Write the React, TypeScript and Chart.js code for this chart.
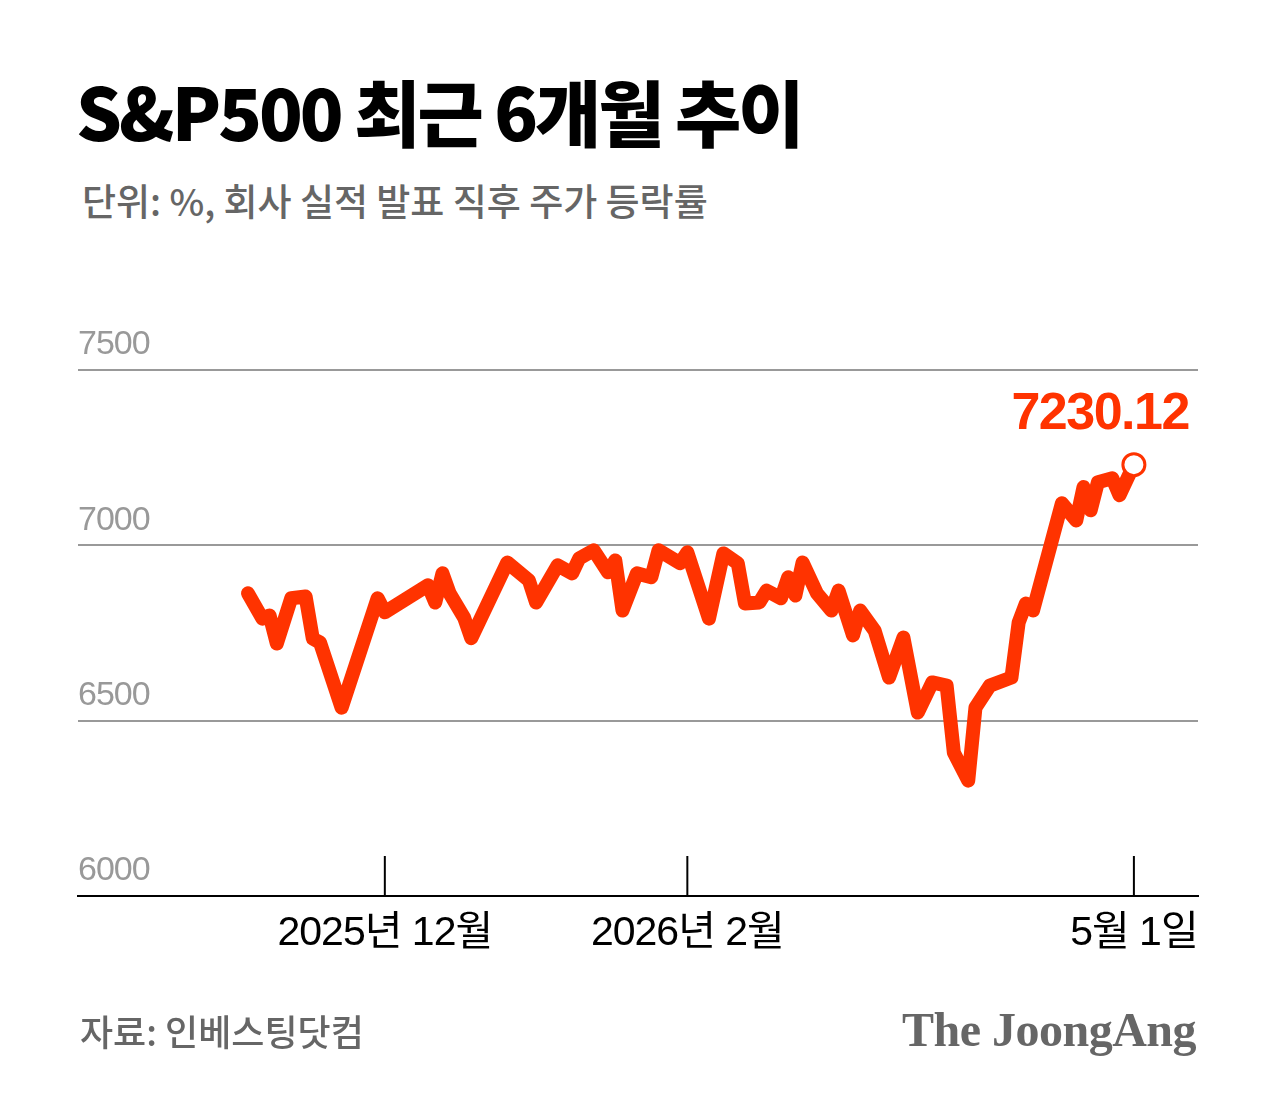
import { useEffect, useRef } from "react";
import { Chart, registerables } from "chart.js";
import type { ChartConfiguration, Plugin } from "chart.js";

Chart.register(...registerables);

// trading-day index counted from 2025-11-03 (index 0)
const DAY_INDEX = [
  0, 2, 3, 4, 6, 8, 9, 10, 13, 18, 19, 25, 26, 27, 28, 30, 31, 36, 39, 40,
  43, 45, 46, 48, 50, 51, 52, 54, 56, 57, 60, 61, 64, 66, 68, 69, 71, 72, 74, 75,
  76, 77, 79, 81, 82, 84, 85, 87, 89, 91, 93, 95, 97, 98, 100, 101, 103, 106, 107, 108,
  109, 113, 115, 116, 117, 118, 120, 121, 123,
];
const CLOSE = [
  6863, 6791, 6800, 6720, 6849, 6854, 6734, 6723, 6537, 6849, 6809, 6886, 6837, 6920, 6863, 6794, 6735, 6951, 6900, 6837,
  6943, 6920, 6963, 6986, 6923, 6957, 6814, 6920, 6909, 6986, 6949, 6980, 6791, 6977, 6949, 6834, 6837, 6871, 6849, 6909,
  6857, 6951, 6863, 6814, 6871, 6743, 6814, 6757, 6623, 6737, 6523, 6609, 6600, 6409, 6329, 6537, 6600, 6623, 6780, 6834,
  6814, 7120, 7071, 7166, 7100, 7180, 7191, 7143, 7230.12,
];

const TICK_INDEX = [19, 61, 123];
const TICK_LABELS = ["2025년 12월", "2026년 2월", "5월 1일"];
const Y_TICKS = [6000, 6500, 7000, 7500];

const RED = "#ff3300";

const tickMarks: Plugin<"line"> = {
  id: "tickMarks",
  beforeDraw(chart) {
    (chart.ctx as any).letterSpacing = "-1px";
  },
  afterDraw(chart) {
    const { ctx, chartArea, scales } = chart;
    ctx.save();
    ctx.strokeStyle = "#000";
    ctx.lineWidth = 2;
    TICK_INDEX.forEach((i) => {
      const x = scales.x.getPixelForValue(i);
      ctx.beginPath();
      ctx.moveTo(x, chartArea.bottom);
      ctx.lineTo(x, chartArea.bottom - 40);
      ctx.stroke();
    });
    ctx.restore();
  },
};

const lastLabel: Plugin<"line"> = {
  id: "lastLabel",
  afterDatasetsDraw(chart) {
    const meta = chart.getDatasetMeta(0);
    const pt = meta.data[meta.data.length - 1];
    if (!pt) return;
    const { ctx } = chart;
    ctx.save();
    (ctx as any).letterSpacing = "-1.5px";
    ctx.fillStyle = RED;
    ctx.font = "bold 52px 'Liberation Sans', Arial, sans-serif";
    ctx.textAlign = "right";
    ctx.textBaseline = "middle";
    ctx.fillText(CLOSE[CLOSE.length - 1].toFixed(2), pt.x + 55, pt.y - 50);
    ctx.restore();
  },
};

export default function App() {
  const canvasRef = useRef<HTMLCanvasElement | null>(null);
  const chartRef = useRef<Chart | null>(null);

  useEffect(() => {
    document.body.style.margin = "0";
    const ctx = canvasRef.current!.getContext("2d")!;
    const last = CLOSE.length - 1;

    const config: ChartConfiguration<"line", { x: number; y: number }[]> = {
      type: "line",
      data: {
        datasets: [
          {
            data: DAY_INDEX.map((x, i) => ({ x, y: CLOSE[i] })),
            borderColor: RED,
            borderWidth: 14,
            borderJoinStyle: "round",
            borderCapStyle: "round",
            tension: 0,
            pointRadius: (c) => (c.dataIndex === last ? 11 : 0),
            pointHoverRadius: (c) => (c.dataIndex === last ? 11 : 0),
            pointBackgroundColor: "#fff",
            pointBorderColor: RED,
            pointBorderWidth: 3,
            clip: false as any,
          },
        ],
      },
      options: {
        responsive: false,
        animation: false,
        events: [],
        layout: { padding: { left: 78, right: 82, top: 370, bottom: 145 } },
        plugins: { legend: { display: false }, tooltip: { enabled: false } },
        scales: {
          x: {
            type: "linear",
            min: -23.6,
            max: 131.9,
            afterFit: (s) => {
              s.height = 60;
            },
            afterBuildTicks: (s) => {
              s.ticks = TICK_INDEX.map((v) => ({ value: v }));
            },
            grid: { display: false, drawTicks: false },
            border: { display: true, color: "#000", width: 2 },
            ticks: {
              autoSkip: false,
              maxRotation: 0,
              padding: 13,
              color: "#000",
              font: { size: 41, family: "'Liberation Sans', 'Noto Sans CJK KR', sans-serif" },
              callback: (v) => TICK_LABELS[TICK_INDEX.indexOf(Number(v))] ?? "",
            },
          },
          y: {
            min: 6000,
            max: 7500,
            afterFit: (s) => {
              s.width = 0;
            },
            afterBuildTicks: (s) => {
              s.ticks = Y_TICKS.map((v) => ({ value: v }));
            },
            border: { display: false },
            grid: {
              drawTicks: false,
              lineWidth: 2,
              color: (c) => (c.tick?.value === 6000 ? "#000" : "#999"),
            },
            ticks: {
              mirror: true,
              padding: 0,
              labelOffset: -25,
              color: "#999",
              font: { size: 34, family: "'Liberation Sans', Arial, sans-serif" },
              callback: (v) => String(v),
            },
          },
        },
      },
      plugins: [tickMarks, lastLabel],
    };

    const chart = new Chart(ctx, config);
    chartRef.current = chart;
    return () => chartRef.current?.destroy();
  }, []);

  const korean = "'Noto Sans CJK KR', sans-serif";

  return (
    <div style={{ position: "relative", width: 1280, height: 1101, background: "#fff", overflow: "hidden" }}>
      <div
        style={{
          position: "absolute", left: 76, top: 74, fontFamily: korean, fontWeight: 900,
          fontSize: 72, lineHeight: 1, letterSpacing: -3, color: "#000", whiteSpace: "nowrap",
        }}
      >
        S&amp;P500 최근 6개월 추이
      </div>
      <div
        style={{
          position: "absolute", left: 82, top: 182, fontFamily: korean, fontWeight: 500,
          fontSize: 37, lineHeight: 1, letterSpacing: 0, color: "#666", whiteSpace: "nowrap",
        }}
      >
        단위: %, 회사 실적 발표 직후 주가 등락률
      </div>
      <canvas ref={canvasRef} width={1280} height={1101} style={{ position: "absolute", left: 0, top: 0 }} />
      <div
        style={{
          position: "absolute", left: 80, top: 1012, fontFamily: korean, fontWeight: 500,
          fontSize: 36, lineHeight: 1, letterSpacing: 0, color: "#666", whiteSpace: "nowrap",
        }}
      >
        자료: 인베스팅닷컴
      </div>
      <div
        style={{
          position: "absolute", right: 84, top: 1006, fontFamily: "'Liberation Serif', serif", fontWeight: 700,
          fontSize: 48, lineHeight: 1, letterSpacing: -0.5, color: "#666", whiteSpace: "nowrap",
        }}
      >
        The JoongAng
      </div>
    </div>
  );
}
